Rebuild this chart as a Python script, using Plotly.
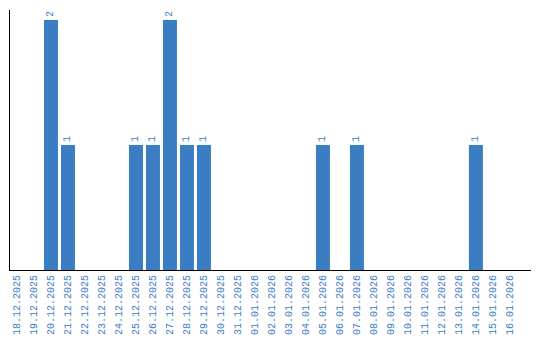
import plotly.graph_objects as go

dates = ["18.12.2025", "19.12.2025", "20.12.2025", "21.12.2025", "22.12.2025",
         "23.12.2025", "24.12.2025", "25.12.2025", "26.12.2025", "27.12.2025",
         "28.12.2025", "29.12.2025", "30.12.2025", "31.12.2025", "01.01.2026",
         "02.01.2026", "03.01.2026", "04.01.2026", "05.01.2026", "06.01.2026",
         "07.01.2026", "08.01.2026", "09.01.2026", "10.01.2026", "11.01.2026",
         "12.01.2026", "13.01.2026", "14.01.2026", "15.01.2026", "16.01.2026"]
counts = [0, 0, 2, 1, 0, 0, 0, 1, 1, 2, 1, 1, 0, 0, 0,
          0, 0, 0, 1, 0, 1, 0, 0, 0, 0, 0, 0, 1, 0, 0]

labels = [str(c) if c > 0 else "" for c in counts]
blue = "#3b7dc3"
font = "Liberation Mono"

fig = go.Figure(go.Bar(
    x=dates, y=counts, marker=dict(color=blue, line=dict(width=0)), text=labels,
    textposition="outside", textangle=-90, cliponaxis=False,
    textfont=dict(family=font, size=10, color=blue),
))
fig.update_layout(
    width=540, height=340, margin=dict(l=10, r=9, t=10, b=70),
    plot_bgcolor="white", paper_bgcolor="white", bargap=0.176,
    showlegend=False,
)
fig.update_xaxes(type="category", tickangle=-90, showline=True, linecolor="black",
                 linewidth=1, ticks="", showgrid=False, automargin=False,
                 range=[-0.41, 30.24],
                 tickfont=dict(family=font, size=10, color=blue))
fig.update_yaxes(range=[0, 2.08], showline=True, linecolor="black", linewidth=1,
                 showticklabels=False, ticks="", showgrid=False, zeroline=False,
                 automargin=False)
fig.write_html("out.html")
